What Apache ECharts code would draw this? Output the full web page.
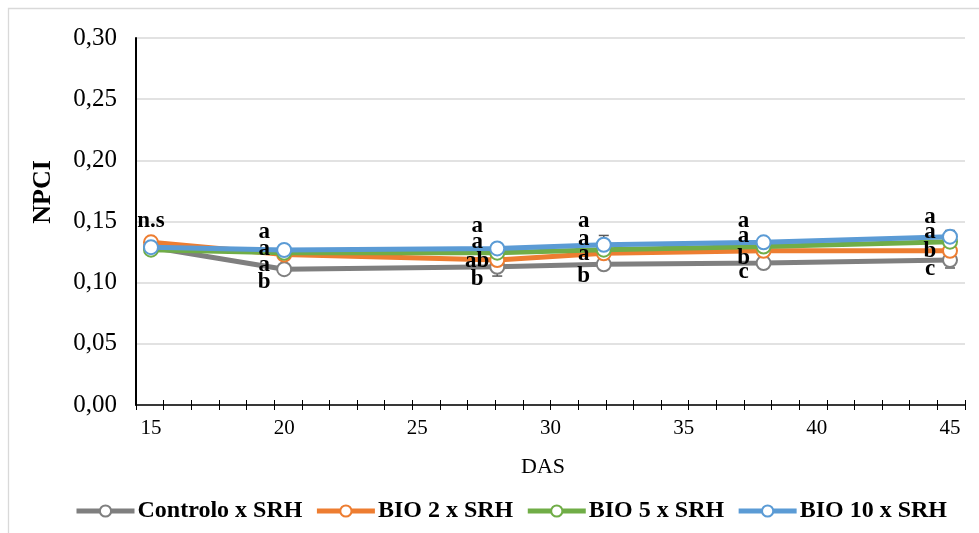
<!DOCTYPE html>
<html>
<head>
<meta charset="utf-8">
<script src="https://cdn.jsdelivr.net/npm/echarts@6/dist/echarts.min.js"></script>
<style>
html,body{margin:0;padding:0;background:#fff;}
#c{width:979px;height:533px;}
</style>
</head>
<body>
<div id="c"></div>
<script>
// ---- data ----
const xValues = [15, 20, 28, 32, 38, 45];
const xTickLabels = [15, 20, 25, 30, 35, 40, 45];
const yTicks = [0, 0.05, 0.10, 0.15, 0.20, 0.25, 0.30];
const seriesNames = ['Controlo x SRH', 'BIO 2 x SRH', 'BIO 5 x SRH', 'BIO 10 x SRH'];
const controlo = [0.129, 0.111, 0.113, 0.115, 0.116, 0.1185];
const bio2 = [0.133, 0.123, 0.1185, 0.124, 0.126, 0.126];
const bio5 = [0.127, 0.1245, 0.1245, 0.127, 0.1295, 0.1335];
const bio10 = [0.129, 0.1267, 0.128, 0.131, 0.133, 0.1376];
const errControlo = [0.003, 0.003, 0.0076, 0.003, 0.003, 0.0065];
const errBio2 = [0.003, 0.003, 0.003, 0.003, 0.003, 0.003];
const errBio5 = [0.003, 0.003, 0.003, 0.003, 0.003, 0.003];
const errBio10 = [0.003, 0.003, 0.003, 0.0076, 0.003, 0.005];
// significance letters: [x, y, text]
const letters = [
  [15, 0.1496, 'n.s'],
  [20, 0.1406, 'a'], [20, 0.1267, 'a'], [20, 0.1136, 'a'], [20, 0.0997, 'b'],
  [28, 0.1455, 'a'], [28, 0.1324, 'a'], [28, 0.1169, 'ab'], [28, 0.1022, 'b'],
  [32, 0.1496, 'a'], [32, 0.1349, 'a'], [32, 0.1226, 'a'], [32, 0.1046, 'b'],
  [38, 0.1496, 'a'], [38, 0.1373, 'a'], [38, 0.1193, 'b'], [38, 0.1079, 'c'],
  [45, 0.1529, 'a'], [45, 0.1406, 'a'], [45, 0.1251, 'b'], [45, 0.1104, 'c']
];

const colors = ['#7f7f7f', '#ed7d31', '#70ad47', '#5b9bd5'];
const values = [controlo, bio2, bio5, bio10];
const errs = [errControlo, errBio2, errBio5, errBio10];
const FONT = 'Liberation Serif';

const chart = echarts.init(document.getElementById('c'), null, {renderer: 'canvas'});

const errSeries = values.map((vals, si) => ({
  type: 'custom',
  xAxisIndex: 0, yAxisIndex: 0,
  z: 1,
  silent: true,
  data: xValues.map((x, i) => [x, vals[i] - errs[si][i], vals[i] + errs[si][i]]),
  renderItem: function (params, api) {
    const lo = api.coord([api.value(0), api.value(1)]);
    const hi = api.coord([api.value(0), api.value(2)]);
    const w = 5;
    const st = {stroke: '#595959', lineWidth: 1.5};
    return {type: 'group', children: [
      {type: 'line', shape: {x1: lo[0], y1: lo[1], x2: hi[0], y2: hi[1]}, style: st},
      {type: 'line', shape: {x1: lo[0] - w, y1: lo[1], x2: lo[0] + w, y2: lo[1]}, style: st},
      {type: 'line', shape: {x1: hi[0] - w, y1: hi[1], x2: hi[0] + w, y2: hi[1]}, style: st}
    ]};
  }
}));

const lineSeries = values.map((vals, si) => ({
  name: seriesNames[si],
  type: 'line',
  xAxisIndex: 0, yAxisIndex: 0,
  z: 3 + si,
  data: xValues.map((x, i) => [x, vals[i]]),
  color: colors[si],
  symbol: 'circle',
  symbolSize: 14,
  showAllSymbol: true,
  lineStyle: {color: colors[si], width: 5},
  itemStyle: {color: '#ffffff', borderColor: colors[si], borderWidth: 2},
  emphasis: {disabled: true},
  animation: false
}));

const letterSeries = {
  type: 'custom',
  xAxisIndex: 0, yAxisIndex: 0,
  z: 10,
  silent: true,
  data: letters,
  renderItem: function (params, api) {
    const p = api.coord([api.value(0), api.value(1)]);
    const txt = letters[params.dataIndex][2];
    const dx = txt === 'n.s' ? 0 : -20;
    return {type: 'text', x: p[0] + dx, y: p[1] - 1,
      style: {text: txt, font: 'bold 23px "' + FONT + '"', fill: '#000', align: 'center', verticalAlign: 'middle'}};
  }
};

const option = {
  animation: false,
  backgroundColor: '#ffffff',
  grid: {left: 136, right: 14, top: 38, bottom: 128, containLabel: false},
  xAxis: [
    {
      type: 'value', min: 14.437, max: 45.563, position: 'bottom',
      axisLine: {show: true, lineStyle: {color: '#000', width: 1.5}},
      axisTick: {show: false},
      splitLine: {show: false},
      axisLabel: {customValues: xTickLabels, color: '#000', fontFamily: FONT, fontSize: 21, margin: 13,
        formatter: v => String(Math.round(v))}
    },
    {
      type: 'value', min: 0, max: 30, interval: 1, position: 'bottom', offset: -5,
      axisLine: {show: false},
      axisTick: {show: true, length: 10, lineStyle: {color: '#000', width: 1}},
      axisLabel: {show: false},
      splitLine: {show: false}
    }
  ],
  yAxis: {
    type: 'value', min: 0, max: 0.3, interval: 0.05,
    axisLine: {show: true, lineStyle: {color: '#000', width: 2}},
    axisTick: {show: false},
    splitLine: {show: true, lineStyle: {color: '#d9d9d9', width: 1.5}},
    axisLabel: {color: '#000', fontFamily: FONT, fontSize: 25, margin: 19,
      formatter: v => v.toFixed(2).replace('.', ',')}
  },
  legend: {
    data: seriesNames,
    left: 74, top: 499, padding: 0,
    itemWidth: 58, itemHeight: 14, itemGap: 12,
    lineStyle: {width: 5},
    textStyle: {fontFamily: FONT, fontWeight: 'bold', fontSize: 24, color: '#000', padding: [0, 0, 0, -2]}
  },
  graphic: [
    {type: 'rect', silent: true, z: -10, shape: {x: 8.5, y: 8.5, width: 1200, height: 800},
      style: {fill: 'none', stroke: '#d9d9d9', lineWidth: 1.3}},
    {type: 'text', x: 43, y: 192, rotation: Math.PI / 2,
      style: {text: 'NPCI', font: 'bold 26px "' + FONT + '"', fill: '#000', align: 'center', verticalAlign: 'middle'}},
    {type: 'text', x: 543, y: 467,
      style: {text: 'DAS', font: '22px "' + FONT + '"', fill: '#000', align: 'center', verticalAlign: 'middle'}}
  ],
  series: [...errSeries, ...lineSeries, letterSeries]
};
chart.setOption(option);
</script>
</body>
</html>
